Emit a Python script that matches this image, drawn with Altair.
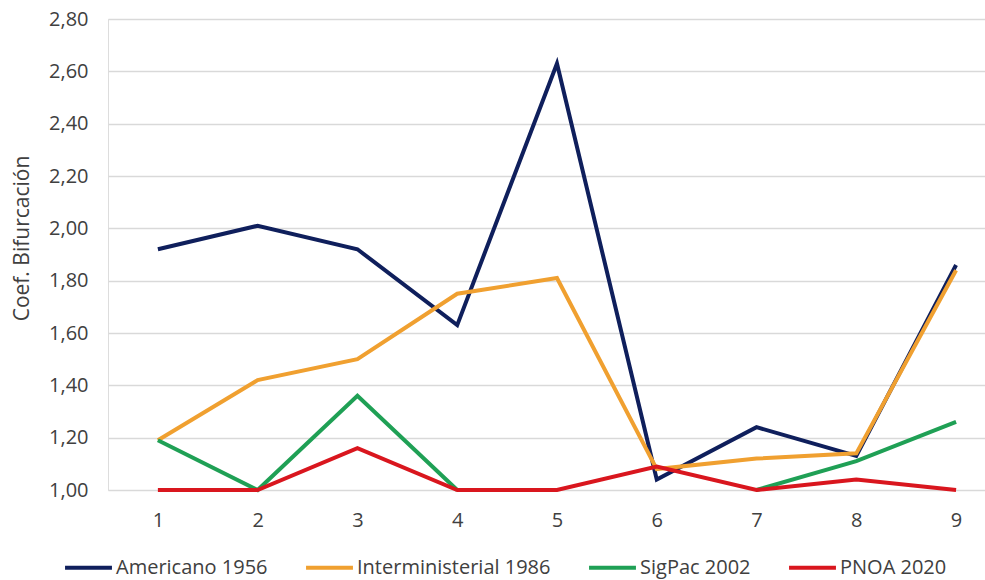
import altair as alt
import pandas as pd
import numpy as np

# Sample points along the x axis
puntos = [1, 2, 3, 4, 5, 6, 7, 8, 9]

# Bifurcation coefficient per flight / orthophoto series
americano_1956 = [1.92, 2.01, 1.92, 1.63, 2.63, 1.04, 1.24, 1.13, 1.86]
interministerial_1986 = [1.19, 1.42, 1.50, 1.75, 1.81, 1.08, 1.12, 1.14, 1.84]
sigpac_2002 = [1.19, 1.00, 1.36, 1.00, None, None, 1.00, 1.11, 1.26]
pnoa_2020 = [1.00, 1.00, 1.16, 1.00, 1.00, 1.09, 1.00, 1.04, 1.00]

series = ["Americano 1956", "Interministerial 1986", "SigPac 2002", "PNOA 2020"]
colores = ["#0f1f5c", "#f0a030", "#1fa055", "#d9161e"]
valores = [americano_1956, interministerial_1986, sigpac_2002, pnoa_2020]

rows = []
for nombre, vals in zip(series, valores):
    for p, v in zip(puntos, vals):
        rows.append({"punto": p, "coef": np.nan if v is None else v, "serie": nombre})
df = pd.DataFrame(rows)

FONT = "Open Sans"
TEXT = "#404040"

base = alt.Chart(df).mark_line(
    strokeWidth=4, invalid="break-paths-show-domains"
).encode(
    x=alt.X(
        "punto:Q",
        scale=alt.Scale(domain=[0.5, 9.29], nice=False, zero=False),
        axis=alt.Axis(
            values=puntos, grid=False, domain=False, ticks=False,
            title=None, labelFontSize=20, labelColor=TEXT, labelFont=FONT,
            labelPadding=20, format="d",
        ),
    ),
    y=alt.Y(
        "coef:Q",
        scale=alt.Scale(domain=[1.0, 2.8], nice=False, zero=False),
        axis=alt.Axis(
            values=[1.0, 1.2, 1.4, 1.6, 1.8, 2.0, 2.2, 2.4, 2.6, 2.8],
            labelExpr="replace(format(datum.value, '.2f'), '.', ',')",
            domain=False, ticks=False, grid=True, gridColor="#d9d9d9",
            gridWidth=1.3, labelFontSize=20, labelColor=TEXT, labelFont=FONT,
            labelPadding=20, title="Coef. Bifurcación", titleFontSize=21,
            titleFont=FONT, titleColor=TEXT, titleFontWeight="normal",
            titleAngle=270, titleX=-86, titleY=219, titleAlign="center",
            titleBaseline="middle",
        ),
    ),
    color=alt.Color(
        "serie:N",
        scale=alt.Scale(domain=series, range=colores),
        legend=alt.Legend(
            title=None, orient="none", direction="horizontal",
            legendX=-45, legendY=523, symbolType="stroke",
            symbolSize=2200, symbolStrokeWidth=4, labelFontSize=20,
            labelFont=FONT, labelColor=TEXT, labelOffset=2,
            labelLimit=400, columnPadding=30,
        ),
    ),
)

# one layer per series so the later ones are drawn on top
layers = [base.transform_filter(alt.datum.serie == s) for s in series]

chart = alt.layer(*layers).properties(
    width=877,
    height=471,
    padding={"left": 108, "top": 19, "right": 0, "bottom": 90},
    autosize=alt.AutoSizeParams(type="none"),
).configure_view(stroke=None).configure(background="white")

chart.save("out.html", embed_options={"renderer": "svg", "actions": False})
